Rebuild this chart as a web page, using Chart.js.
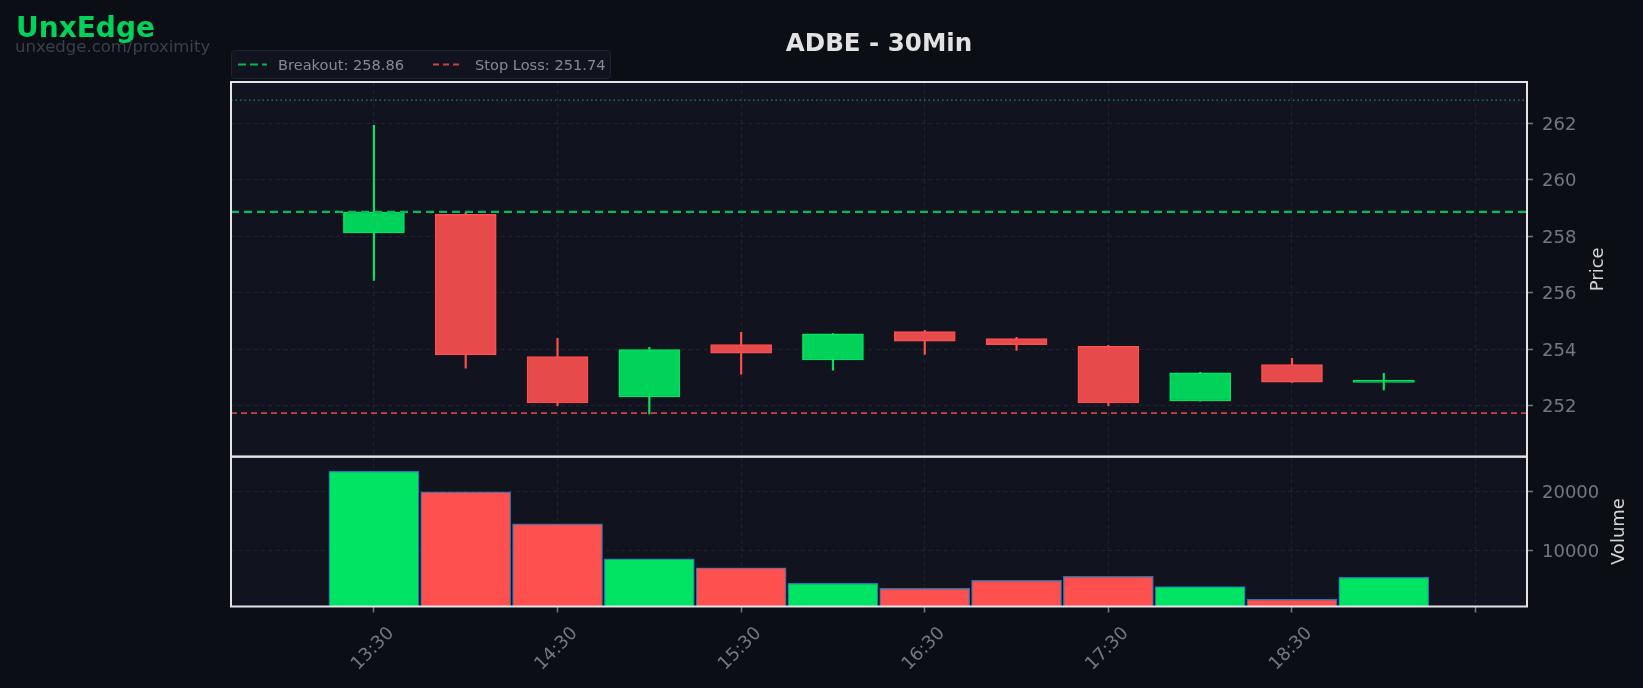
<!DOCTYPE html>
<html>
  <head>
    <title>ADBE - 30Min</title>
    <meta charset="UTF-8">
    <style>
      html, body {
        margin: 0;
        padding: 0;
        background: #0b0e15;
      }
      #canvas {
        display: block;
      }
    </style>
  </head>
  <body>
    <canvas id="canvas" width="1643" height="688"></canvas>
    <script src="https://cdn.jsdelivr.net/npm/chart.js@4.4.1/dist/chart.umd.min.js"></script>
    <script>
    // candle times (30 min bars)
    var times = ['13:30', '14:00', '14:30', '15:00', '15:30', '16:00', '16:30', '17:00', '17:30', '18:00', '18:30', '19:00'];
    var opens  = [258.12, 258.78, 253.74, 252.31, 254.17, 253.62, 254.63, 254.38, 254.10, 252.17, 253.46, 252.83];
    var highs  = [261.93, 258.84, 254.39, 254.07, 254.60, 254.56, 254.67, 254.42, 254.14, 253.18, 253.68, 253.15];
    var lows   = [256.44, 253.33, 252.00, 251.71, 253.12, 253.26, 253.82, 253.96, 252.00, 252.16, 252.83, 252.56];
    var closes = [258.86, 253.80, 252.10, 253.99, 253.86, 254.55, 254.29, 254.16, 252.10, 253.17, 252.84, 252.84];
    var volumes = [23460, 20000, 14580, 8640, 7120, 4480, 3630, 4980, 5660, 3900, 1760, 5490];

    var breakout = 258.86;
    var stopLoss = 251.74;
    var target = 262.81;

    // axis ticks
    var xTickTimes = ['13:30', '14:30', '15:30', '16:30', '17:30', '18:30', '19:30'];
    var xTickLabels = ['13:30', '14:30', '15:30', '16:30', '17:30', '18:30', ''];
    var priceTicks = [252, 254, 256, 258, 260, 262];
    var volumeTicks = [10000, 20000];

    var UP = '#00d25a', UP_EDGE = '#00e463';
    var DOWN = '#e64a4a', DOWN_EDGE = '#ff4f4f';
    var GRID = '#1f2431';
    var TICK = '#737883';
    var FONT = '"DejaVu Sans", sans-serif';

    function toMin(t) {
        var p = t.split(':');
        return parseInt(p[0], 10) * 60 + parseInt(p[1], 10);
    }

    var xs = times.map(toMin);
    var xMin = 763.3, xMax = 1186.8;
    var isUp = closes.map(function(c, i) { return c >= opens[i]; });

    var bodies = xs.map(function(x, i) { return {x: x, y: [opens[i], closes[i]]}; });
    var wicks = xs.map(function(x, i) { return {x: x, y: [lows[i], highs[i]]}; });
    var vols = xs.map(function(x, i) { return {x: x, y: volumes[i]}; });

    function hline(v) {
        return [{x: xMin, y: v}, {x: xMax, y: v}];
    }

    // backgrounds, frames, legend, titles
    var decor = {
        id: 'decor',
        beforeDraw: function(chart) {
            var ctx = chart.ctx, a = chart.chartArea;
            ctx.save();
            ctx.fillStyle = '#0b0e15';
            ctx.fillRect(0, 0, chart.width, chart.height);
            ctx.fillStyle = '#11141f';
            ctx.fillRect(a.left, a.top, a.right - a.left, a.bottom - a.top);
            ctx.restore();
        },
        afterDraw: function(chart) {
            var ctx = chart.ctx, a = chart.chartArea;
            var yP = chart.scales.y, yV = chart.scales.yVol, x = chart.scales.x;
            ctx.save();

            // panel frames
            ctx.strokeStyle = '#e4e4e4';
            ctx.lineWidth = 2;
            ctx.strokeRect(a.left, yP.top, a.right - a.left, yP.bottom - yP.top);
            ctx.strokeRect(a.left, yV.top, a.right - a.left, yV.bottom - yV.top);

            // x labels, rotated and centred on the tick
            ctx.font = '18px ' + FONT;
            ctx.fillStyle = TICK;
            ctx.textAlign = 'center';
            ctx.textBaseline = 'middle';
            xTickTimes.forEach(function(t, i) {
                var px = x.getPixelForValue(toMin(t));
                ctx.save();
                ctx.translate(px - 1, 649);
                ctx.rotate(-Math.PI / 4);
                ctx.fillText(xTickLabels[i], 0, 0);
                ctx.restore();
            });

            // axis titles
            ctx.fillStyle = '#d4d4d4';
            ctx.textBaseline = 'alphabetic';
            ctx.save();
            ctx.translate(1603, (yP.top + yP.bottom) / 2);
            ctx.rotate(-Math.PI / 2);
            ctx.fillText('Price', 0, 0);
            ctx.restore();
            ctx.save();
            ctx.translate(1624, (yV.top + yV.bottom) / 2);
            ctx.rotate(-Math.PI / 2);
            ctx.fillText('Volume', 0, 0);
            ctx.restore();

            // title
            ctx.font = 'bold 24.5px ' + FONT;
            ctx.fillStyle = '#e2e2e2';
            ctx.textBaseline = 'alphabetic';
            ctx.fillText('ADBE - 30Min', (a.left + a.right) / 2, 51);

            // brand
            ctx.textAlign = 'left';
            ctx.font = 'bold 28px ' + FONT;
            ctx.fillStyle = '#00d25a';
            ctx.fillText('UnxEdge', 16, 37);
            ctx.font = '16.5px ' + FONT;
            ctx.fillStyle = '#3a404c';
            ctx.fillText('unxedge.com/proximity', 15, 52);

            // legend box
            ctx.beginPath();
            ctx.roundRect(231.5, 50.5, 379, 28, 3);
            ctx.fillStyle = '#11141f';
            ctx.fill();
            ctx.strokeStyle = '#1f2430';
            ctx.lineWidth = 1;
            ctx.stroke();

            ctx.lineWidth = 2;
            ctx.setLineDash([8, 4]);
            ctx.strokeStyle = '#00b955';
            ctx.beginPath();
            ctx.moveTo(238, 64.5);
            ctx.lineTo(267, 64.5);
            ctx.stroke();
            ctx.setLineDash([6, 4]);
            ctx.strokeStyle = '#c84444';
            ctx.beginPath();
            ctx.moveTo(433, 64.5);
            ctx.lineTo(462, 64.5);
            ctx.stroke();
            ctx.setLineDash([]);

            ctx.font = '14.6px ' + FONT;
            ctx.fillStyle = '#858a94';
            ctx.fillText('Breakout: ' + breakout.toFixed(2), 278, 70);
            ctx.fillText('Stop Loss: ' + stopLoss.toFixed(2), 475, 70);

            ctx.restore();
        }
    };

    function plain(v) {
        return String(v);
    }

    var ctx = document.getElementById('canvas').getContext('2d');
    var chart = new Chart(ctx, {
        data: {
            datasets: [
                {
                    type: 'line',
                    data: hline(breakout),
                    yAxisID: 'y',
                    borderColor: '#00bd58',
                    borderWidth: 2.3,
                    borderDash: [8, 5],
                    pointRadius: 0,
                    order: -1
                },
                {
                    type: 'line',
                    data: hline(stopLoss),
                    yAxisID: 'y',
                    borderColor: '#c84444',
                    borderWidth: 1.7,
                    borderDash: [6, 4],
                    pointRadius: 0,
                    order: -1
                },
                {
                    type: 'line',
                    data: hline(target),
                    yAxisID: 'y',
                    borderColor: '#0f8048',
                    borderWidth: 1.5,
                    borderDash: [1.5, 3],
                    pointRadius: 0,
                    order: -1
                },
                {
                    // candle bodies
                    type: 'bar',
                    data: bodies,
                    yAxisID: 'y',
                    grouped: false,
                    barThickness: 61,
                    minBarLength: 2,
                    borderWidth: 1.5,
                    borderSkipped: false,
                    backgroundColor: isUp.map(function(u) { return u ? UP : DOWN; }),
                    borderColor: isUp.map(function(u) { return u ? UP_EDGE : DOWN_EDGE; }),
                    order: 0
                },
                {
                    // wicks
                    type: 'bar',
                    data: wicks,
                    yAxisID: 'y',
                    grouped: false,
                    barThickness: 1.5,
                    borderWidth: 0,
                    backgroundColor: isUp.map(function(u) { return u ? UP_EDGE : DOWN_EDGE; }),
                    order: 1
                },
                {
                    type: 'bar',
                    data: vols,
                    yAxisID: 'yVol',
                    grouped: false,
                    barThickness: 90,
                    borderWidth: 1.2,
                    borderSkipped: false,
                    borderColor: '#1f77b4',
                    backgroundColor: isUp.map(function(u) { return u ? '#00e463' : '#ff5050'; }),
                    order: 2
                }
            ]
        },
        plugins: [decor],
        options: {
            responsive: false,
            animation: false,
            devicePixelRatio: 1,
            layout: {
                padding: {left: 231, top: 82, right: 0, bottom: 0}
            },
            plugins: {
                legend: {display: false},
                title: {display: false},
                tooltip: {enabled: false}
            },
            scales: {
                x: {
                    type: 'linear',
                    min: xMin,
                    max: xMax,
                    offset: false,
                    afterBuildTicks: function(s) {
                        s.ticks = xTickTimes.map(function(t) { return {value: toMin(t)}; });
                    },
                    afterFit: function(s) { s.height = 81.5; },
                    ticks: {display: false},
                    grid: {offset: false, color: GRID, lineWidth: 1, tickColor: TICK, tickLength: 6, tickWidth: 1.5},
                    border: {display: false, dash: [4, 3.5]}
                },
                y: {
                    type: 'linear',
                    position: 'right',
                    stack: 'panes',
                    stackWeight: 2.5,
                    min: 250.2,
                    max: 263.46,
                    afterBuildTicks: function(s) {
                        s.ticks = priceTicks.map(function(v) { return {value: v}; });
                    },
                    afterFit: function(s) { s.width = 116; },
                    ticks: {color: TICK, font: {family: FONT, size: 18}, padding: 9, labelOffset: 2, callback: plain},
                    grid: {color: GRID, lineWidth: 1, tickColor: TICK, tickLength: 6, tickWidth: 1.5},
                    border: {display: false, dash: [4, 3.5]}
                },
                yVol: {
                    type: 'linear',
                    position: 'right',
                    stack: 'panes',
                    stackWeight: 1,
                    min: 540,
                    max: 25970,
                    afterBuildTicks: function(s) {
                        s.ticks = volumeTicks.map(function(v) { return {value: v}; });
                    },
                    afterFit: function(s) { s.width = 116; },
                    ticks: {color: TICK, font: {family: FONT, size: 18}, padding: 9, labelOffset: 2, callback: plain},
                    grid: {color: GRID, lineWidth: 1, tickColor: TICK, tickLength: 6, tickWidth: 1.5},
                    border: {display: false, dash: [4, 3.5]}
                }
            }
        }
    });
    </script>
  </body>
</html>
